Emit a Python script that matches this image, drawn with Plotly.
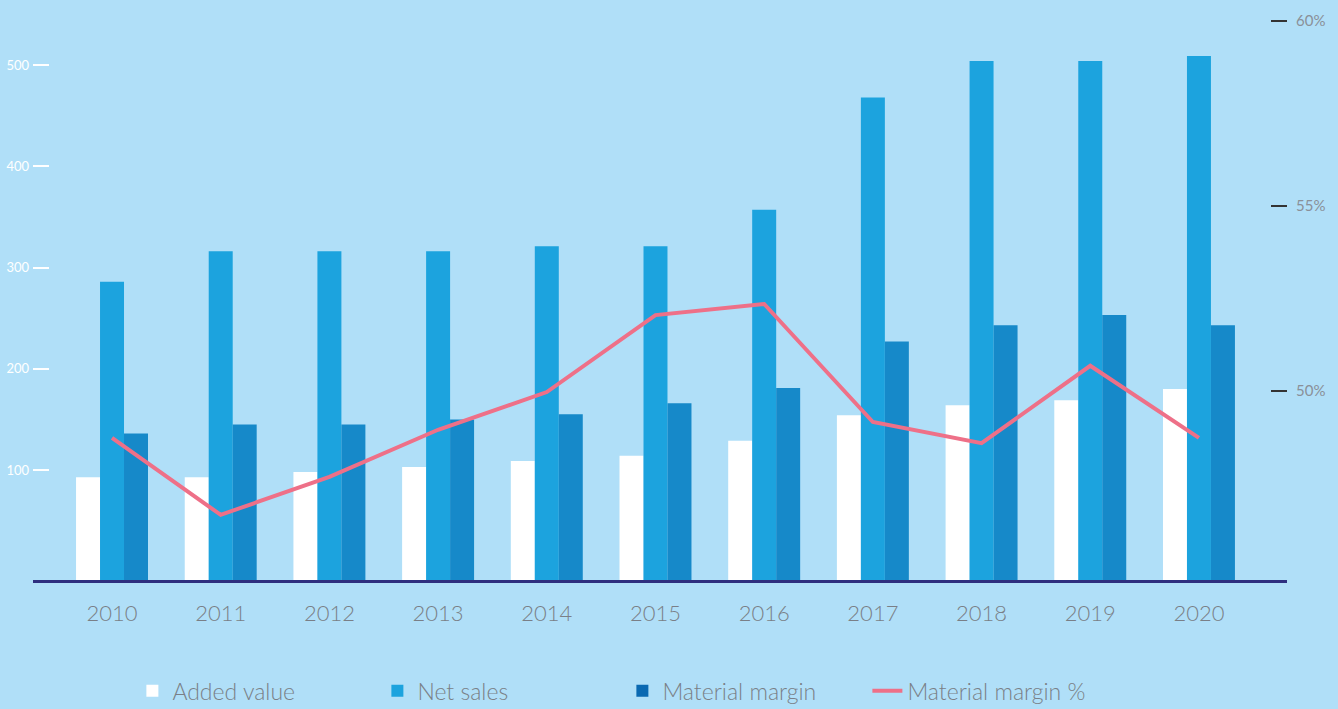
import plotly.graph_objects as go

years = ["2010", "2011", "2012", "2013", "2014", "2015", "2016", "2017", "2018", "2019", "2020"]
added_value = [93, 93, 98, 103, 109, 114, 129, 154, 164, 169, 180]
net_sales = [286, 316, 316, 316, 321, 321, 357, 468, 504, 504, 509]
material_margin = [136, 145, 145, 150, 155, 166, 181, 227, 243, 253, 243]
margin_pct = [48.73, 46.65, 47.68, 48.95, 49.97, 52.05, 52.35, 49.16, 48.59, 50.68, 48.73]

left_ticks = [100, 200, 300, 400, 500]
right_ticks = [50, 55, 60]
right_labels = ["50%", "55%", "60%"]

BG = "#b0dff8"
C_AV = "#ffffff"
C_NS = "#1ca3de"
C_MM = "#1689c9"
C_MM_LEG = "#0a69b2"
C_LINE = "#ee7088"
TXT = "#7a7f87"
FONT = "Lato"

y_min = -8.6
fig = go.Figure()
fig.add_trace(go.Bar(x=years, y=[v - y_min for v in added_value], base=y_min, name="Added value",
                     marker_color=C_AV, marker_line_width=0, offsetgroup="av", legendrank=1))
fig.add_trace(go.Bar(x=years, y=[v - y_min for v in net_sales], base=y_min, name="Net sales",
                     marker_color=C_NS, marker_line_width=0, offsetgroup="ns", legendrank=2))
fig.add_trace(go.Bar(x=years, y=[v - y_min for v in material_margin], base=y_min,
                     name="Material margin", marker_color=C_MM, marker_line_width=0,
                     offsetgroup="mm", showlegend=False))
fig.add_trace(go.Bar(x=[years[0]], y=[None], name="Material margin", marker_color=C_MM_LEG,
                     marker_line_width=0, offsetgroup="mm", legendrank=3))
fig.add_trace(go.Scatter(x=years, y=margin_pct, name="Material margin %", yaxis="y2",
                         mode="lines", line=dict(color=C_LINE, width=4), legendrank=4))

fig.update_layout(
    width=1338, height=709,
    paper_bgcolor=BG, plot_bgcolor=BG,
    margin=dict(l=33, r=51, t=15, b=129, autoexpand=False),
    barmode="group", bargap=0.338, bargroupgap=0,
    font=dict(family=FONT, color=TXT),
    showlegend=True,
    legend=dict(orientation="h", x=0.47, xanchor="center", y=-0.196, yanchor="middle",
                font=dict(size=23, color=TXT, family=FONT, weight=300),
                bgcolor="rgba(0,0,0,0)", entrywidth=200),
    xaxis=dict(range=[-0.727, 10.81], showgrid=False, showline=True, linecolor="#2e2f7f",
               linewidth=3, ticks="", tickfont=dict(size=22, color=TXT, family=FONT, weight=300),
               ticklabelstandoff=12, zeroline=False),
    yaxis=dict(range=[y_min, 549.4], showgrid=False, zeroline=False, showline=False,
               tickvals=left_ticks, ticks="inside", ticklen=16, tickwidth=2, tickcolor="white",
               tickfont=dict(size=13, color="white", family=FONT), ticklabelstandoff=3),
    yaxis2=dict(overlaying="y", side="right", range=[44.89, 60.16], showgrid=False,
                zeroline=False, showline=False, tickvals=right_ticks, ticktext=right_labels,
                ticks="inside", ticklen=16, tickwidth=2, tickcolor="#333333",
                tickfont=dict(size=15, color="#8a9099", family=FONT), ticklabelstandoff=8),
)

fig.write_html("out.html")
